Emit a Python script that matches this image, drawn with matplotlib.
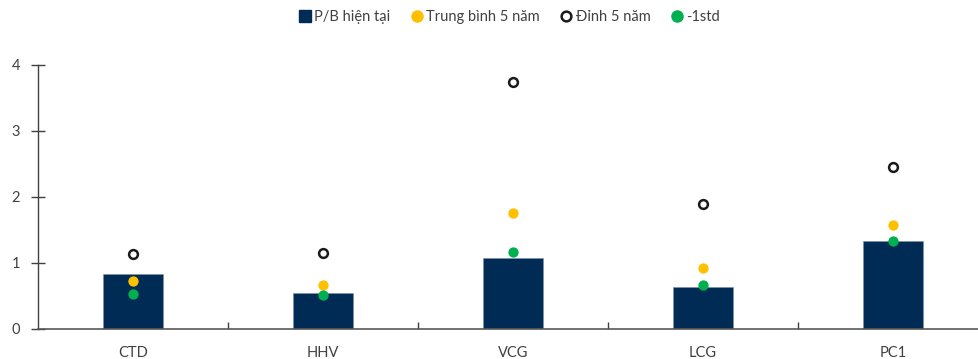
import matplotlib
matplotlib.use("Agg")
import matplotlib.pyplot as plt
from matplotlib.lines import Line2D
import numpy as np

categories = ["CTD", "HHV", "VCG", "LCG", "PC1"]
pb_current = [0.83, 0.54, 1.08, 0.64, 1.33]
avg_5y = [0.72, 0.66, 1.76, 0.92, 1.58]
peak_5y = [1.14, 1.15, 3.74, 1.89, 2.45]
minus_1std = [0.53, 0.51, 1.17, 0.67, 1.33]

plt.rcParams["font.family"] = ["Lato", "DejaVu Sans"]

navy = "#002B54"
gold = "#FFC000"
green = "#00B050"
grey_text = "#404040"

fig = plt.figure(figsize=(9.79, 3.59), dpi=100)
ax = fig.add_axes([38 / 979, 30 / 359, 950 / 979, 264 / 359])

x = np.arange(len(categories))
ax.bar(x, pb_current, width=0.32, color=navy, edgecolor="#7f8fa6", linewidth=0.4, zorder=2)
ax.scatter(x, avg_5y, s=55, color=gold, zorder=3, linewidths=0)
ax.scatter(x, minus_1std, s=55, color=green, zorder=4, linewidths=0)
ax.scatter(x, peak_5y, s=40, facecolor="white", edgecolor="#1a1a1a", linewidths=1.8, zorder=3)

ax.set_xlim(-0.5, len(categories) - 0.5)
ax.set_ylim(0, 4)
ax.set_yticks([0, 1, 2, 3, 4])
ax.set_xticks(x)
ax.set_xticklabels(categories)
ax.set_xticks(np.arange(0.5, len(categories) - 0.5, 1.0), minor=True)

for side in ("top", "right"):
    ax.spines[side].set_visible(False)
ax.spines["left"].set_color("#404040")
ax.spines["bottom"].set_color("#595959")
ax.spines["left"].set_linewidth(1.0)
ax.spines["bottom"].set_linewidth(1.2)

ax.tick_params(axis="y", direction="inout", length=10, width=1.0, color="#404040",
               labelsize=10.5, labelcolor=grey_text, pad=8)
ax.tick_params(axis="x", which="major", length=0, labelsize=10.5, labelcolor=grey_text, pad=12)
ax.tick_params(axis="x", which="minor", direction="in", length=5, width=1.0, color="#404040")

handles = [
    Line2D([], [], marker="s", linestyle="none", color=navy, markersize=8),
    Line2D([], [], marker="o", linestyle="none", color=gold, markersize=8),
    Line2D([], [], marker="o", linestyle="none", markerfacecolor="white",
           markeredgecolor="#1a1a1a", markeredgewidth=1.8, markersize=7),
    Line2D([], [], marker="o", linestyle="none", color=green, markersize=8),
]
labels = ["P/B hiện tại", "Trung bình 5 năm", "Đỉnh 5 năm", "-1std"]
fig.legend(handles, labels, loc="center", bbox_to_anchor=(508 / 979, 1 - 17 / 359),
           ncol=4, frameon=False, fontsize=10.5, handletextpad=0.05, columnspacing=1.2,
           handlelength=1.2, labelcolor=grey_text)

fig.savefig("out.png", dpi=100)
